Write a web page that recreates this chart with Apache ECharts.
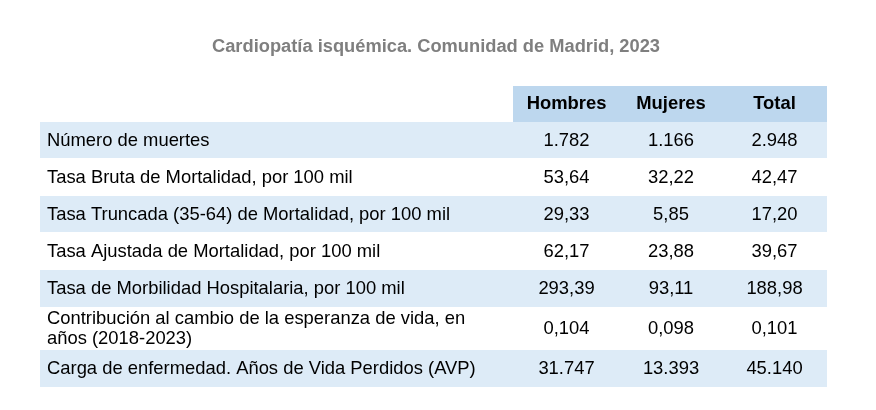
<!DOCTYPE html>
<html><head><meta charset="utf-8">
<script src="https://cdn.jsdelivr.net/npm/echarts@6/dist/echarts.min.js"></script>
<style>html,body{margin:0;padding:0;background:#fff}#c{width:876px;height:410px}</style>
</head><body><div id="c"></div>
<script>
const title = 'Cardiopatía isquémica. Comunidad de Madrid, 2023';
const columns = ['Hombres', 'Mujeres', 'Total'];
const rowLabels = [
  'Número de muertes',
  'Tasa Bruta de Mortalidad, por 100 mil',
  'Tasa Truncada (35-64) de Mortalidad, por 100 mil',
  'Tasa Ajustada de Mortalidad, por 100 mil',
  'Tasa de Morbilidad Hospitalaria, por 100 mil',
  'Contribución al cambio de la esperanza de vida, en\naños (2018-2023)',
  'Carga de enfermedad. Años de Vida Perdidos (AVP)'
];
const hombres = ['1.782', '53,64', '29,33', '62,17', '293,39', '0,104', '31.747'];
const mujeres = ['1.166', '32,22', '5,85', '23,88', '93,11', '0,098', '13.393'];
const total = ['2.948', '42,47', '17,20', '39,67', '188,98', '0,101', '45.140'];

const chart = echarts.init(document.getElementById('c'));
const font = 'Arial, "Liberation Sans", sans-serif';
const fs = '18.4px ';
const left = 40, right = 827;
const colX = [513, 620, 722, 827];
const rowY = [122, 159, 196, 233, 270, 308, 350, 388];
const vals = [hombres, mujeres, total];
const g = [];
g.push({type:'text', x:436, y:47, style:{text:title, fill:'#7f7f7f', font:'bold 18.3px '+font, align:'center', verticalAlign:'middle'}});
g.push({type:'rect', shape:{x:colX[0], y:86, width:right-colX[0], height:36}, style:{fill:'#BDD7EE'}});
columns.forEach((c,i)=>g.push({type:'text', x:(colX[i]+colX[i+1])/2, y:104, style:{text:c, fill:'#000', font:'bold '+fs+font, align:'center', verticalAlign:'middle'}}));
rowLabels.forEach((lab,r)=>{
  const y0 = rowY[r], h = rowY[r+1]-rowY[r], ym = y0+h/2;
  if (r%2===0) g.push({type:'rect', shape:{x:left, y:y0, width:right-left, height:h-1}, style:{fill:'#DDEBF7'}});
  g.push({type:'text', x:47, y:ym, style:{text:lab, fill:'#000', font:fs+font, verticalAlign:'middle', lineHeight:20}});
  vals.forEach((v,i)=>g.push({type:'text', x:(colX[i]+colX[i+1])/2, y:ym, style:{text:v[r], fill:'#000', font:fs+font, align:'center', verticalAlign:'middle'}}));
});
chart.setOption({animation:false, graphic:g});
</script></body></html>
